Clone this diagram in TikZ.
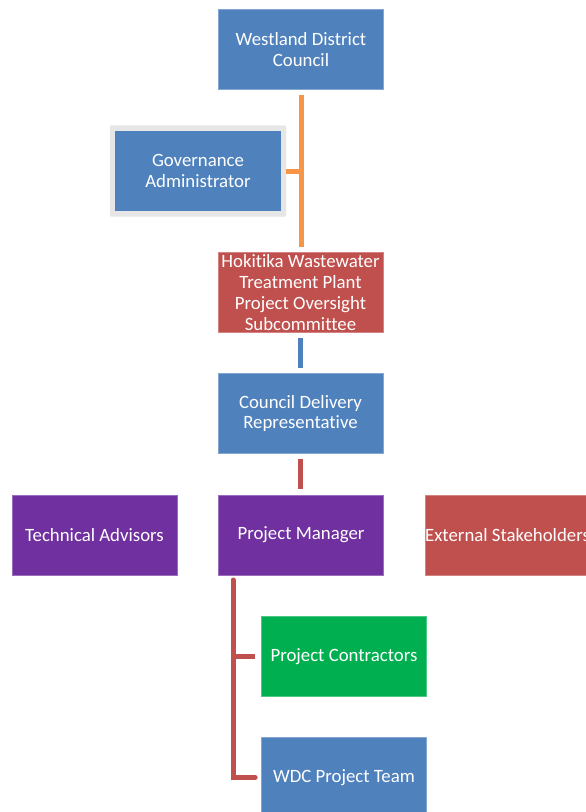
\documentclass[tikz,border=0pt]{standalone}
\usepackage{fontspec}
\setmainfont{Carlito}[Ligatures={NoCommon}]
\definecolor{oblue}{HTML}{4F81BD}
\definecolor{ored}{HTML}{C0504D}
\definecolor{opurple}{HTML}{7030A0}
\definecolor{ogreen}{HTML}{00B050}
\definecolor{oorange}{HTML}{F79646}
\definecolor{ogray}{HTML}{E6E6E6}
\begin{document}
\begin{tikzpicture}[x=1pt,y=-1pt,
  box/.style={rectangle, inner sep=0pt, minimum width=165pt, minimum height=80pt,
    text=white, align=center, font=\fontsize{18.8}{20.7}\selectfont, draw=#1!70!white, line width=0.6pt, fill=#1},
  conn/.style={line width=5pt, draw=#1}]
\useasboundingbox (0,0) rectangle (586,812);
\clip (0,0) rectangle (586,812);
% nodes
\node[box=oblue] (wdc) at (301,49.5) {Westland District\\Council};
\node[rectangle, fill=ogray, draw=ogray, rounded corners=2pt, minimum width=176pt, minimum height=91pt, inner sep=0pt] (govframe) at (198,171) {};
\node[box=oblue, minimum width=166pt, minimum height=80pt, draw=none] (gov) at (198,171) {Governance\\Administrator};
\node[box=ored] (hok) at (300.5,292.5) {Hokitika Wastewater\\Treatment Plant\\Project Oversight\\Subcommittee};
\node[box=oblue] (cdr) at (300.5,413.5) {Council Delivery\\Representative};
\node[box=opurple] (pm) at (301,535) {Project Manager};
\node[box=opurple] (ta) at (94.5,535) {Technical Advisors};
\node[box=ored] (ext) at (507.5,535) {External Stakeholders};
\node[box=ogreen] (pc) at (344,656.5) {Project Contractors};
\node[box=oblue] (team) at (344,777.5) {WDC Project Team};
% connectors
\coordinate (o1) at (301,95);
\coordinate (o2) at (301,247);
\draw[conn=oorange] (o1) -- (o2);
\draw[conn=oorange] (govframe.east) -- (govframe.east -| o1);
\coordinate (b1) at (300.5,338);
\coordinate (b2) at (300.5,368);
\draw[conn=oblue] (b1) -- (b2);
\coordinate (r1) at (300.5,459);
\coordinate (r2) at (300.5,489);
\draw[conn=ored] (r1) -- (r2);
\coordinate (k1) at (233,580);
\draw[conn=ored, line cap=round] (k1) -- (233,777.5) -- ([xshift=-6pt]team.west);
\draw[conn=ored] (pc.west -| k1) -- ([xshift=-6pt]pc.west);
\end{tikzpicture}
\end{document}
